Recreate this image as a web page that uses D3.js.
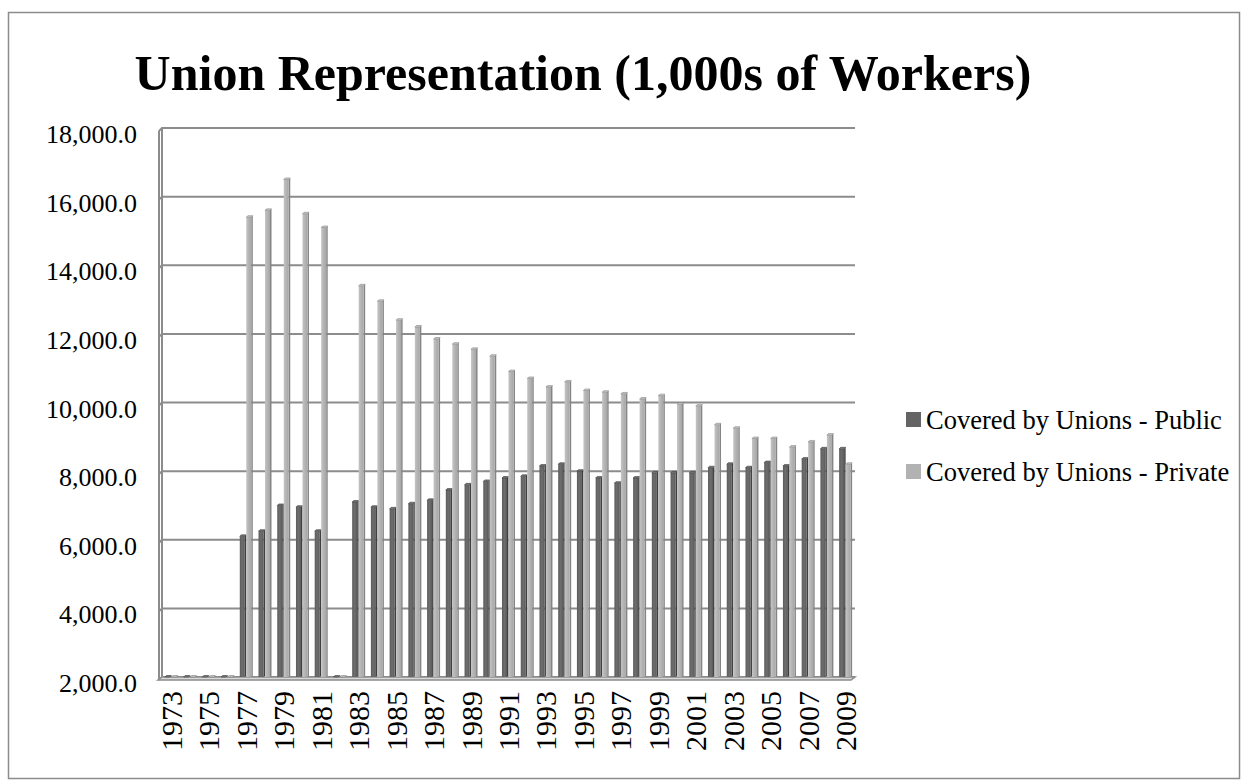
<!DOCTYPE html>
<html>
<head>
<meta charset="utf-8">
<script src="https://cdn.jsdelivr.net/npm/d3@7"></script>
<style>
  body { margin: 0; background: #fff; }
  text { font-family: "Liberation Serif", "Times New Roman", serif; }
</style>
</head>
<body>
<div id="wrapper"></div>
<script>
/* DATA */
const years = d3.range(1973, 2010)
// 0 = no data for that year (drawn flat on the floor)
const publicValues = [0, 0, 0, 0, 6100, 6250, 7000, 6950, 6250, 0,
  7100, 6950, 6900, 7050, 7150, 7450, 7600, 7700, 7800, 7850,
  8150, 8200, 8000, 7800, 7650, 7800, 7950, 7950, 7950, 8100,
  8200, 8100, 8250, 8150, 8350, 8650, 8650]
const privateValues = [0, 0, 0, 0, 15400, 15600, 16500, 15500, 15100, 0,
  13400, 12950, 12400, 12200, 11850, 11700, 11550, 11350, 10900, 10700,
  10450, 10600, 10350, 10300, 10250, 10100, 10200, 9950, 9900, 9350,
  9250, 8950, 8950, 8700, 8850, 9050, 8200]
const seriesNames = ['Covered by Unions - Public', 'Covered by Unions - Private']
const yTicks = d3.range(2000, 18001, 2000)
const title = 'Union Representation (1,000s of Workers)'

/* DIMENSIONS */
const dimensions = {
  width: 1249,
  height: 782,
  plot: { left: 162, right: 855, top: 128, bottom: 677 },
  depth: 3
}

/* SCALES */
const xScale = d3.scaleBand()
  .domain(years)
  .range([dimensions.plot.left, dimensions.plot.right])

const seriesScale = d3.scaleBand()
  .domain([0, 1])
  .range([xScale.bandwidth() / 2 - 6.5, xScale.bandwidth() / 2 + 6.5])

const yScale = d3.scaleLinear()
  .domain([2000, 18000])
  .range([dimensions.plot.bottom, dimensions.plot.top])
  .clamp(true)

const svg = d3.select('#wrapper')
  .append('svg')
  .attr('width', dimensions.width)
  .attr('height', dimensions.height)

// outer chart border
svg.append('rect')
  .attr('x', 8.5).attr('y', 12.5)
  .attr('width', 1231).attr('height', 766)
  .attr('fill', '#fff')
  .attr('stroke', '#8c8c8c')
  .attr('stroke-width', 1.5)

svg.append('text')
  .attr('x', 583)
  .attr('y', 90)
  .attr('text-anchor', 'middle')
  .attr('font-size', 50)
  .attr('font-weight', 'bold')
  .text(title)

/* WALLS & GRID */
const gridGroup = svg.append('g')
  .attr('stroke', '#8c8c8c')
  .attr('fill', 'none')

gridGroup.selectAll('path')
  .data(yTicks)
  .enter()
  .append('path')
  .attr('stroke-width', 2)
  .attr('d', d => `M ${dimensions.plot.left - dimensions.depth} ${yScale(d) + dimensions.depth} L ${dimensions.plot.left} ${yScale(d)} L ${dimensions.plot.right} ${yScale(d)}`)

gridGroup.append('line')
  .attr('stroke-width', 2)
  .attr('x1', dimensions.plot.left).attr('x2', dimensions.plot.left)
  .attr('y1', dimensions.plot.top).attr('y2', dimensions.plot.bottom)
gridGroup.append('line')
  .attr('stroke-width', 2)
  .attr('x1', dimensions.plot.left - dimensions.depth).attr('x2', dimensions.plot.left - dimensions.depth)
  .attr('y1', dimensions.plot.top + dimensions.depth).attr('y2', dimensions.plot.bottom + dimensions.depth)

// floor
svg.append('path')
  .attr('fill', '#d9d9d9')
  .attr('stroke', '#8c8c8c')
  .attr('stroke-width', 1.5)
  .attr('d', `M ${dimensions.plot.left} ${dimensions.plot.bottom} L ${dimensions.plot.right} ${dimensions.plot.bottom} L ${dimensions.plot.right - 4} ${dimensions.plot.bottom + 3} L ${dimensions.plot.left - 4} ${dimensions.plot.bottom + 3} Z`)

/* BARS */
const defs = svg.append('defs')
const palettes = [
  { id: 'pub', stops: ['#5c5c5c', '#6e6e6e', '#5a5a5a'], side: '#404040', top: '#7a7a7a' },
  { id: 'priv', stops: ['#c4c4c4', '#b4b4b4', '#a6a6a6'], side: '#858585', top: '#cfcfcf' }
]
palettes.forEach(p => {
  const g = defs.append('linearGradient').attr('id', p.id)
  p.stops.forEach((c, i) => g.append('stop').attr('offset', i / (p.stops.length - 1)).attr('stop-color', c))
})

const barData = d3.merge(years.map((year, i) => [
  { year, series: 0, value: publicValues[i] },
  { year, series: 1, value: privateValues[i] }
]))

const frontWidth = 5
const sideWidth = 1.5
const barGroups = svg.append('g')
  .selectAll('g')
  .data(barData)
  .enter()
  .append('g')
  .attr('transform', d => `translate(${xScale(d.year) + seriesScale(d.series)} 0)`)

// side face
barGroups.append('path')
  .attr('fill', d => palettes[d.series].side)
  .attr('d', d => {
    const y = yScale(d.value)
    return `M ${frontWidth} ${y} L ${frontWidth + sideWidth} ${y - 1.5} L ${frontWidth + sideWidth} ${dimensions.plot.bottom - 1.5} L ${frontWidth} ${dimensions.plot.bottom} Z`
  })

// front face
barGroups.append('rect')
  .attr('x', 0)
  .attr('width', frontWidth)
  .attr('y', d => yScale(d.value))
  .attr('height', d => dimensions.plot.bottom - yScale(d.value))
  .attr('fill', d => `url(#${palettes[d.series].id})`)

// top cap
barGroups.append('path')
  .attr('fill', d => palettes[d.series].top)
  .attr('stroke', d => palettes[d.series].side)
  .attr('stroke-width', 0.6)
  .attr('d', d => {
    const y = yScale(d.value)
    return `M 0 ${y} L ${sideWidth} ${y - 1.5} L ${frontWidth + sideWidth} ${y - 1.5} L ${frontWidth} ${y} Z`
  })

/* AXES LABELS */
svg.append('g')
  .attr('font-size', 26)
  .attr('text-anchor', 'end')
  .selectAll('text')
  .data(yTicks)
  .enter()
  .append('text')
  .attr('x', 137)
  .attr('y', d => yScale(d) + 6)
  .attr('dy', '0.35em')
  .text(d => d3.format(',.1f')(d))

svg.append('g')
  .attr('font-size', 30)
  .attr('text-anchor', 'end')
  .selectAll('text')
  .data(years.filter((d, i) => i % 2 === 0))
  .enter()
  .append('text')
  .attr('transform', d => `translate(${xScale(d) + xScale.bandwidth() / 2} 691) rotate(-90)`)
  .attr('dy', '0.35em')
  .text(d => d)

/* LEGEND */
const legend = svg.append('g')
  .attr('transform', 'translate(906 420)')
  .selectAll('g')
  .data(seriesNames)
  .enter()
  .append('g')
  .attr('transform', (d, i) => `translate(0 ${i * 52})`)

legend.append('rect')
  .attr('x', 0).attr('y', -8)
  .attr('width', 15).attr('height', 15)
  .attr('fill', (d, i) => i === 0 ? '#646464' : '#b2b2b2')

legend.append('text')
  .attr('x', 20)
  .attr('dy', '0.35em')
  .attr('font-size', 26.5)
  .text(d => d)
</script>
</body>
</html>
